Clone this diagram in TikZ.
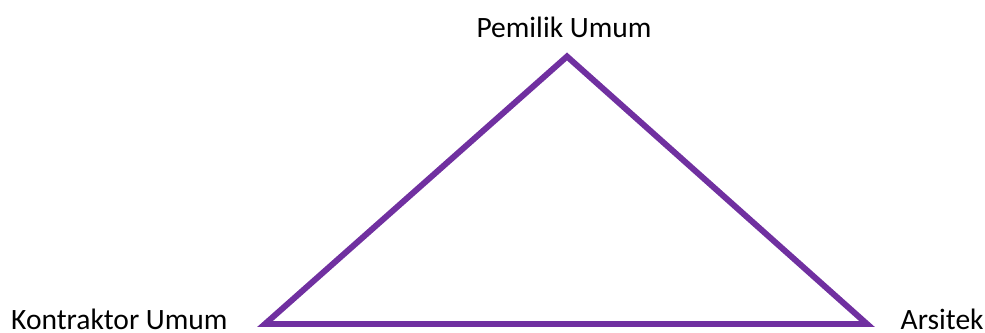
\documentclass[tikz,border=0pt]{standalone}
\usepackage{fontspec}
\setmainfont{Carlito}
\usepackage{tikz}
\usetikzlibrary{positioning}
\definecolor{ungu}{HTML}{7030A0}

\begin{document}
\begin{tikzpicture}[font=\fontsize{8.4pt}{10pt}\selectfont,
    sisi/.style={draw=ungu, line width=1.7pt, line join=miter},
    lbl/.style={inner sep=0pt, text=black}]
    \useasboundingbox (0,0) rectangle (9.85,3.32);
    \coordinate (puncak) at (5.67,2.755);
    \coordinate (kiri) at (2.65,0.08);
    \coordinate (kanan) at (8.67,0.08);
    \draw[sisi] (puncak) -- (kiri) -- (kanan) -- cycle;
    \node[lbl, anchor=base] (pemilik) at (5.64,2.943) {Pemilik Umum};
    \node[lbl, anchor=base west] (kontraktor) at (0.105,0.027) {Kontraktor Umum};
    \node[lbl, anchor=base west] (arsitek) at (9.0,0.027) {Arsitek};
  \end{tikzpicture}
\end{document}
